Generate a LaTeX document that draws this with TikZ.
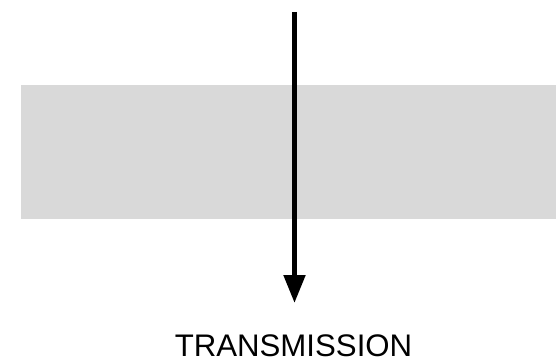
\documentclass[tikz,border=0pt]{standalone}
\usepackage{fontspec}
\setmainfont{Liberation Sans}
\usetikzlibrary{arrows.meta}
\definecolor{slab}{HTML}{D9D9D9}
\tikzset{
  beam/.style={line width=5pt, -{Triangle[length=28pt,width=21pt]}},
  caption/.style={font=\fontsize{31.2pt}{36pt}\selectfont, inner sep=0pt, anchor=base}
}
\begin{document}
\begin{tikzpicture}[x=1pt,y=1pt]
  \useasboundingbox (0,0) rectangle (556,359);
  % the medium the beam passes through
  \fill[slab] (21,140) rectangle (556,274);
  % transmitted beam
  \coordinate (src) at (294.5,347);
  \coordinate (tip) at (294.5,56);
  \draw[beam] (src) -- (tip);
  \node[caption] (label) at (293.5,2.8) {TRANSMISSION};
\end{tikzpicture}
\end{document}
